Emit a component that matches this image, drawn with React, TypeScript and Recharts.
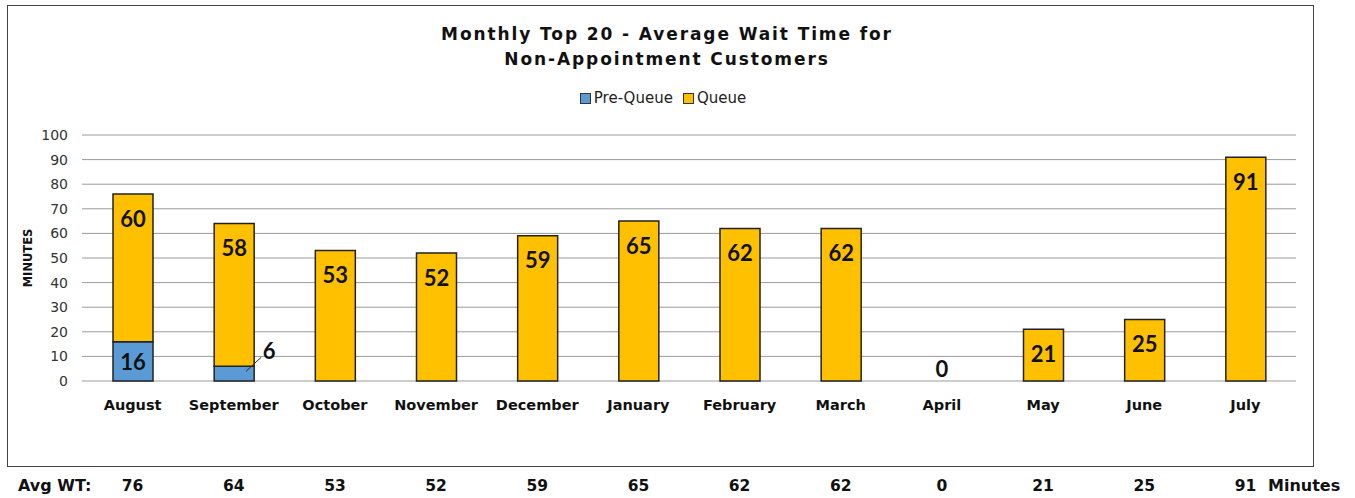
import React from 'react';
import { BarChart, Bar, XAxis, YAxis, CartesianGrid, Legend, LabelList } from 'recharts';

const months = ['August', 'September', 'October', 'November', 'December', 'January', 'February', 'March', 'April', 'May', 'June', 'July'];
const preQueue = [16, 6, 0, 0, 0, 0, 0, 0, 0, 0, 0, 0];
const queue = [60, 58, 53, 52, 59, 65, 62, 62, 0, 21, 25, 91];
const avgWT = [76, 64, 53, 52, 59, 65, 62, 62, 0, 21, 25, 91];
const yTicks = [0, 10, 20, 30, 40, 50, 60, 70, 80, 90, 100];

const data = months.map((m, i) => ({ month: m, pre: preQueue[i], queue: queue[i], avg: avgWT[i] }));

const FONT = '"DejaVu Sans", "Open Sans", sans-serif';
const LABEL_FONT = 'Lato, "Open Sans", sans-serif';

const XTick = (props: any) => {
  const { x, y, payload, index } = props;
  const empty = queue[index] === 0 && preQueue[index] === 0;
  return (
    <g>
      {empty && (
        <text x={x} y={y - 37} textAnchor="middle" dominantBaseline="central" fontFamily={LABEL_FONT} fontWeight="bold" fontSize={22} fill="#111">
          {queue[index]}
        </text>
      )}
      <text x={x} y={y} textAnchor="middle" dominantBaseline="central" fontFamily={FONT} fontWeight="bold" fontSize={14.5} fill="#111">
        {payload.value}
      </text>
      <text x={x} y={y + 81} textAnchor="middle" dominantBaseline="central" fontFamily={FONT} fontWeight="bold" fontSize={15.5} fill="#111">
        {avgWT[index]}
      </text>
    </g>
  );
};

const PreLabel = (props: any) => {
  const { x, y, width, height, value } = props;
  if (!value) return null;
  if (value >= 10) {
    return (
      <text x={x + width / 2} y={y + height / 2} textAnchor="middle" dominantBaseline="central" fontFamily={LABEL_FONT} fontWeight="bold" fontSize={22} fill="#111">
        {value}
      </text>
    );
  }
  return (
    <g>
      <line x1={x + 32} y1={y + 5} x2={x + 47} y2={y - 9} stroke="#222" strokeWidth={1} />
      <text x={x + 55} y={y - 16} textAnchor="middle" dominantBaseline="central" fontFamily={LABEL_FONT} fontWeight="bold" fontSize={22} fill="#111">
        {value}
      </text>
    </g>
  );
};

const QueueLabel = (props: any) => {
  const { x, y, width, height, value } = props;
  if (!height) return null;
  return (
    <text x={x + width / 2} y={y + 24} textAnchor="middle" dominantBaseline="central" fontFamily={LABEL_FONT} fontWeight="bold" fontSize={22} fill="#111">
      {value}
    </text>
  );
};

const LegendContent = () => (
  <div style={{ display: 'flex', justifyContent: 'center', alignItems: 'center', fontFamily: FONT, fontSize: 15, color: '#222', height: 18 }}>
    <span style={{ display: 'inline-block', width: 9, height: 9, background: '#5B9BD5', border: '1px solid #333', marginRight: 3 }} />
    <span style={{ marginRight: 10 }}>Pre-Queue</span>
    <span style={{ display: 'inline-block', width: 9, height: 9, background: '#FFC000', border: '1px solid #333', marginRight: 3 }} />
    <span>Queue</span>
  </div>
);

const YLabel = (props: any) => {
  const { viewBox } = props;
  const cy = viewBox.y + viewBox.height / 2;
  return (
    <text x={28} y={cy} transform={`rotate(-90, 28, ${cy})`} textAnchor="middle" dominantBaseline="central" fontFamily={FONT} fontWeight="bold" fontSize={11.5} fill="#111">
      MINUTES
    </text>
  );
};

export default function App() {
  return (
    <div style={{ position: 'absolute', left: 0, top: 0, width: 1355, height: 498, background: '#fff', overflow: 'hidden' }}>
      <div style={{ position: 'absolute', left: 7, top: 5, width: 1305, height: 460, border: '1.5px solid #444' }} />
      <div style={{ position: 'absolute', left: 7, top: 22, width: 1320, textAlign: 'center', fontFamily: FONT, fontWeight: 'bold', fontSize: 17, letterSpacing: 1.9, lineHeight: '25px', color: '#111' }}>
        Monthly Top 20 - Average Wait Time for<br />Non-Appointment Customers
      </div>
      <div style={{ position: 'absolute', left: 0, top: 0 }}>
        <BarChart width={1355} height={498} data={data} margin={{ top: 117, right: 59, left: 0, bottom: 87 }} barSize={40}>
          <CartesianGrid vertical={false} stroke="#9a9a9a" strokeWidth={1} />
          <XAxis dataKey="month" axisLine={false} tickLine={false} tick={<XTick />} tickMargin={18} interval={0} height={30} />
          <YAxis width={82} domain={[0, 100]} ticks={yTicks} axisLine={false} tickLine={false} tickMargin={8} interval={0}
            tick={{ fontFamily: FONT, fontSize: 14, fill: '#333' }} label={<YLabel />} />
          <Legend verticalAlign="top" content={<LegendContent />} wrapperStyle={{ top: 89, left: 0, width: 1326 }} />
          <Bar dataKey="pre" name="Pre-Queue" stackId="a" fill="#5B9BD5" stroke="#222" strokeWidth={1.5} isAnimationActive={false}>
            <LabelList dataKey="pre" content={<PreLabel />} />
          </Bar>
          <Bar dataKey="queue" name="Queue" stackId="a" fill="#FFC000" stroke="#222" strokeWidth={1.5} isAnimationActive={false}>
            <LabelList dataKey="queue" content={<QueueLabel />} />
          </Bar>
        </BarChart>
      </div>
      <div style={{ position: 'absolute', left: 18, top: 476, fontFamily: FONT, fontWeight: 'bold', fontSize: 16, color: '#111' }}>Avg WT:</div>
      <div style={{ position: 'absolute', left: 1268, top: 476, fontFamily: FONT, fontWeight: 'bold', fontSize: 16, color: '#111' }}>Minutes</div>
    </div>
  );
}
